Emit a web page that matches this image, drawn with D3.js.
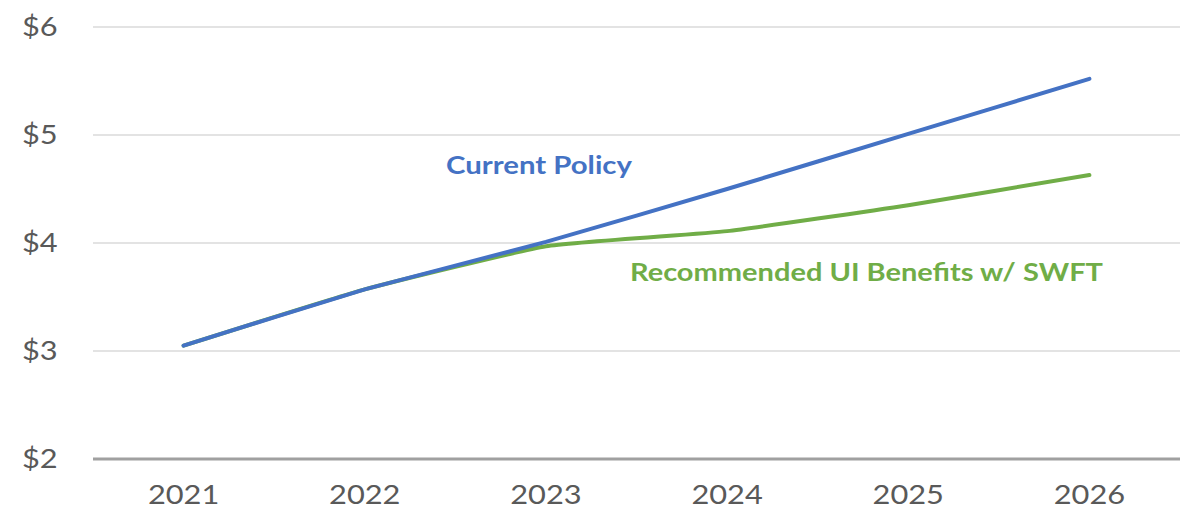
<!DOCTYPE html>
<html>
<head>
<meta charset="utf-8">
<script src="https://cdn.jsdelivr.net/npm/d3@7"></script>
<style>
	body { margin: 0; background: #fff; }
	svg text { font-family: Lato, "Open Sans", sans-serif; }
</style>
</head>
<body>
<div id="chart"></div>
<script>
var years         = ['2021', '2022', '2023', '2024', '2025', '2026'];
var currentPolicy = [3.05, 3.57, 4.01, 4.50, 5.01, 5.52];
var recommended   = [3.05, 3.57, 3.97, 4.11, 4.35, 4.63];
var yTicks        = [2, 3, 4, 5, 6];

var width  = 1188,
	height = 510,
	margin = {top: 27, right: 8, bottom: 51, left: 93},
	stretch = 1.14; // the reference text is a little wide

var svg = d3.select('#chart').append('svg')
	.attr('width', width)
	.attr('height', height);

var x = d3.scaleBand()
	.domain(years)
	.range([margin.left, width - margin.right]);

var y = d3.scaleLinear()
	.domain([2, 6])
	.range([height - margin.bottom, margin.top]);

function cx(d) { return x(d) + x.bandwidth() / 2; }

// gridlines
svg.append('g')
	.selectAll('line')
	.data(yTicks.slice(1))
	.enter().append('line')
	.attr('x1', margin.left)
	.attr('x2', width - margin.right)
	.attr('y1', function(d) { return y(d); })
	.attr('y2', function(d) { return y(d); })
	.attr('stroke', '#e3e3e3')
	.attr('stroke-width', 2);

// y labels
svg.append('g')
	.selectAll('text')
	.data(yTicks)
	.enter().append('text')
	.attr('transform', function(d) { return 'translate(22,' + y(d) + ') scale(' + stretch + ',1)'; })
	.attr('dy', '0.35em')
	.attr('font-size', 27)
	.attr('fill', '#595959')
	.text(function(d) { return '$' + d; });

// x axis line
svg.append('line')
	.attr('x1', margin.left)
	.attr('x2', width - margin.right)
	.attr('y1', y(2))
	.attr('y2', y(2))
	.attr('stroke', '#a0a0a0')
	.attr('stroke-width', 3);

// x labels
svg.append('g')
	.selectAll('text')
	.data(years)
	.enter().append('text')
	.attr('transform', function(d) { return 'translate(' + cx(d) + ',' + (y(2) + 36) + ') scale(' + stretch + ',1)'; })
	.attr('dy', '0.35em')
	.attr('text-anchor', 'middle')
	.attr('font-size', 27)
	.attr('fill', '#595959')
	.text(function(d) { return d; });

var line = d3.line()
	.x(function(d, i) { return cx(years[i]); })
	.y(function(d) { return y(d); })
	.curve(d3.curveCardinal.tension(0.6));

svg.append('path')
	.attr('d', line(recommended))
	.attr('fill', 'none')
	.attr('stroke', '#70ad47')
	.attr('stroke-width', 4)
	.attr('stroke-linecap', 'round');

svg.append('path')
	.attr('d', line(currentPolicy))
	.attr('fill', 'none')
	.attr('stroke', '#4472c4')
	.attr('stroke-width', 4)
	.attr('stroke-linecap', 'round');

// series labels
svg.append('text')
	.attr('x', 446)
	.attr('y', 166)
	.attr('dy', '0.35em')
	.attr('font-size', 24)
	.attr('font-weight', 'bold')
	.attr('textLength', 186)
	.attr('lengthAdjust', 'spacingAndGlyphs')
	.attr('fill', '#4472c4')
	.text('Current Policy');

svg.append('text')
	.attr('x', 630)
	.attr('y', 273)
	.attr('dy', '0.35em')
	.attr('font-size', 24)
	.attr('font-weight', 'bold')
	.attr('textLength', 473)
	.attr('lengthAdjust', 'spacingAndGlyphs')
	.attr('fill', '#70ad47')
	.text('Recommended UI Benefits w/ SWFT');
</script>
</body>
</html>
